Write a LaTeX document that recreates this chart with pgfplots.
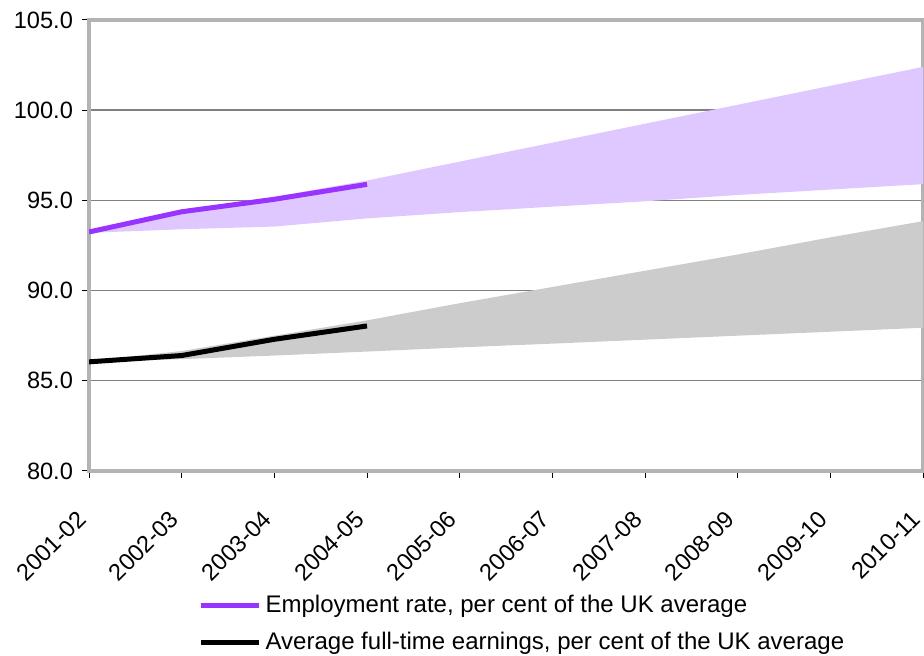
\documentclass[border=0pt]{standalone}
\usepackage{pgfplots}
\pgfplotsset{compat=1.18}
\usepgfplotslibrary{fillbetween}
\usepackage{fontspec}
\setmainfont{Liberation Sans}
\definecolor{emp}{HTML}{9933FF}
\definecolor{empband}{HTML}{DFC8FF}
\definecolor{earnband}{HTML}{CCCCCC}
\definecolor{axisgrey}{HTML}{B3B3B3}
\definecolor{gridgrey}{HTML}{808080}
\begin{document}
\begin{tikzpicture}
\begin{axis}[
  name=ax,
  scale only axis,
  width=417pt, height=225.5pt,
  xmin=0, xmax=9, ymin=80, ymax=105,
  xtick={0,...,9},
  xticklabels={2001-02,2002-03,2003-04,2004-05,2005-06,2006-07,2007-08,2008-09,2009-10,2010-11},
  x tick label style={rotate=45, anchor=east, inner sep=1pt, xshift=-14.5pt, yshift=-10.5pt},
  ytick={80,85,...,105},
  /pgf/number format/assume math mode=true,
  yticklabel style={/pgf/number format/fixed, /pgf/number format/fixed zerofill, /pgf/number format/precision=1, xshift=-1pt},
  ymajorgrids,
  major grid style={gridgrey, line width=0.7pt},
  axis line style={axisgrey, line width=1.6pt},
  tick style={black, line width=0.5pt},
  tick align=outside,
  major tick length=3.5pt,
  xtick pos=bottom, ytick pos=left,
  font=\fontsize{11.8}{13.5}\selectfont,
  legend style={at={(0.131,-0.265)}, anchor=north west, draw=none, fill=none,
    font=\fontsize{12}{13.5}\selectfont, row sep=4.5pt, inner sep=0pt},
  legend cell align=left,
  legend image code/.code={\draw[#1] (0pt,0pt) -- (29pt,0pt);},
]
\addplot[name path=eu, draw=none, forget plot] coordinates {(0,93.25)(1,94.45)(2,95.2)(3,96.1)(4,97.15)(5,98.2)(6,99.25)(7,100.3)(8,101.35)(9,102.4)};
\addplot[name path=el, draw=none, forget plot] coordinates {(0,93.2)(1,93.4)(2,93.55)(3,94.0)(4,94.35)(5,94.65)(6,94.95)(7,95.3)(8,95.6)(9,95.9)};
\addplot[empband, forget plot] fill between[of=eu and el];
\addplot[name path=gu, draw=none, forget plot] coordinates {(0,86.1)(1,86.65)(2,87.5)(3,88.35)(4,89.3)(5,90.2)(6,91.1)(7,92.0)(8,92.95)(9,93.85)};
\addplot[name path=gl, draw=none, forget plot] coordinates {(0,86.05)(1,86.2)(2,86.4)(3,86.62)(4,86.85)(5,87.06)(6,87.28)(7,87.5)(8,87.72)(9,87.94)};
\addplot[earnband, forget plot] fill between[of=gu and gl];
\addplot[emp, line width=2.5pt, line join=round] coordinates {(0,93.25)(1,94.37)(2,95.06)(3,95.89)};
\addlegendentry{Employment rate, per cent of the UK average}
\addplot[black, line width=2.5pt, line join=round] coordinates {(0,86.05)(1,86.4)(2,87.3)(3,88.04)};
\addlegendentry{Average full-time earnings, per cent of the UK average}
\end{axis}
\pgfresetboundingbox
\path ([xshift=-44.5pt, yshift=10pt]ax.north west) rectangle ([xshift=0.5pt, yshift=-92.5pt]ax.south east);
\end{tikzpicture}
\end{document}
